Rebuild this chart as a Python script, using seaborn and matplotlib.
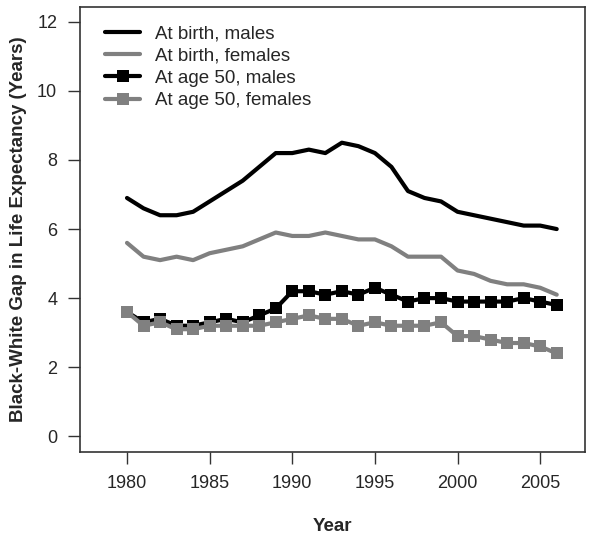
import seaborn as sns
import matplotlib.pyplot as plt
import pandas as pd

years = list(range(1980, 2007))
birth_males = [6.9, 6.6, 6.4, 6.4, 6.5, 6.8, 7.1, 7.4, 7.8, 8.2, 8.2, 8.3, 8.2, 8.5,
               8.4, 8.2, 7.8, 7.1, 6.9, 6.8, 6.5, 6.4, 6.3, 6.2, 6.1, 6.1, 6.0]
birth_females = [5.6, 5.2, 5.1, 5.2, 5.1, 5.3, 5.4, 5.5, 5.7, 5.9, 5.8, 5.8, 5.9, 5.8,
                 5.7, 5.7, 5.5, 5.2, 5.2, 5.2, 4.8, 4.7, 4.5, 4.4, 4.4, 4.3, 4.1]
age50_males = [3.6, 3.3, 3.4, 3.2, 3.2, 3.3, 3.4, 3.3, 3.5, 3.7, 4.2, 4.2, 4.1, 4.2,
               4.1, 4.3, 4.1, 3.9, 4.0, 4.0, 3.9, 3.9, 3.9, 3.9, 4.0, 3.9, 3.8]
age50_females = [3.6, 3.2, 3.3, 3.1, 3.1, 3.2, 3.2, 3.2, 3.2, 3.3, 3.4, 3.5, 3.4, 3.4,
                 3.2, 3.3, 3.2, 3.2, 3.2, 3.3, 2.9, 2.9, 2.8, 2.7, 2.7, 2.6, 2.4]

SERIES = [
    {"label": "At birth, males", "values": birth_males, "color": "black", "marker": None},
    {"label": "At birth, females", "values": birth_females, "color": "#808080", "marker": None},
    {"label": "At age 50, males", "values": age50_males, "color": "black", "marker": "s"},
    {"label": "At age 50, females", "values": age50_females, "color": "#808080", "marker": "s"},
]

sns.set_style("ticks")
plt.rcParams["font.family"] = ["Liberation Sans", "DejaVu Sans"]

fig = plt.figure(figsize=(6.02, 5.37), dpi=100)
ax = fig.add_axes([0.133, 0.158, 0.839, 0.829])

for s in SERIES:
    df = pd.DataFrame({"year": years, "gap": s["values"]})
    sns.lineplot(data=df, x="year", y="gap", ax=ax, color=s["color"], linewidth=3,
                 marker=s["marker"], markersize=8, markeredgewidth=0,
                 label=s["label"])

ax.set_xlim(1977.16, 2007.72)
ax.set_ylim(-0.46, 12.43)
ax.set_xticks([1980, 1985, 1990, 1995, 2000, 2005])
ax.set_yticks([0, 2, 4, 6, 8, 10, 12])
ax.tick_params(axis="both", direction="out", length=8.5, width=1, labelsize=13,
               color="#333333", pad=8)
for sp in ax.spines.values():
    sp.set_visible(True)
    sp.set_linewidth(1.2)
    sp.set_color("#333333")

ax.set_xlabel("Year", fontsize=13.5, fontweight="bold", labelpad=19)
ax.set_ylabel("Black-White Gap in Life Expectancy (Years)", fontsize=13.5,
              fontweight="bold", labelpad=7)

ax.legend(loc="upper left", frameon=False, fontsize=13.5, handlelength=1.87,
          handletextpad=0.8, labelspacing=0.27, borderaxespad=0.4,
          bbox_to_anchor=(0.02, 0.992))

fig.savefig("out.png", dpi=100)
